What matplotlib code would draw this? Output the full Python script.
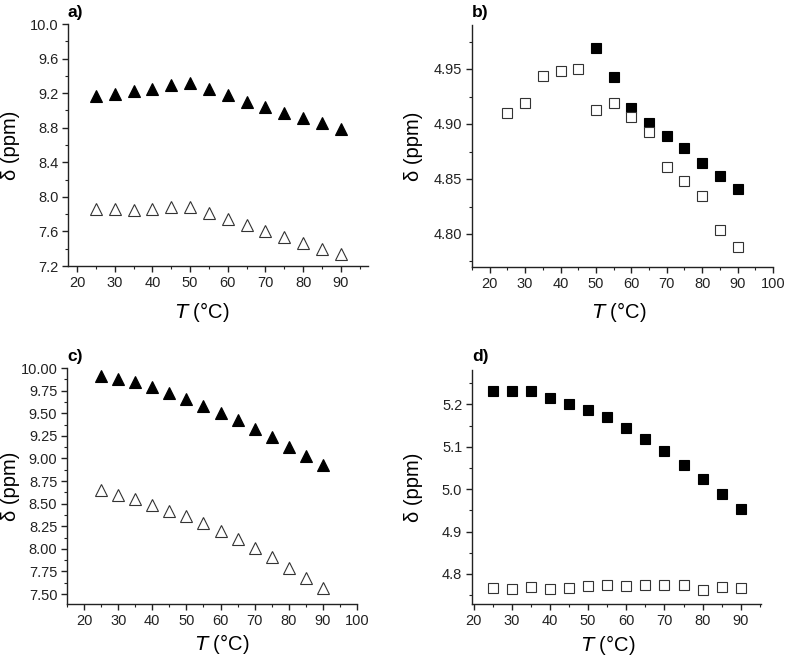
import numpy as np
import matplotlib
matplotlib.use("Agg")
import matplotlib.pyplot as plt
from matplotlib.ticker import MultipleLocator, FormatStrFormatter

plt.rcParams['font.family'] = ['Liberation Sans', 'DejaVu Sans']

W, H = 787, 657

temps = [25, 30, 35, 40, 45, 50, 55, 60, 65, 70, 75, 80, 85, 90]

# panel a
a_filled = [9.17, 9.19, 9.22, 9.25, 9.29, 9.32, 9.25, 9.18, 9.10, 9.04, 8.97, 8.91, 8.85, 8.78]
a_open = [7.86, 7.86, 7.85, 7.86, 7.88, 7.88, 7.81, 7.74, 7.67, 7.60, 7.53, 7.47, 7.40, 7.34]

# panel b (filled series starts at 50 C)
b_temps_filled = [50, 55, 60, 65, 70, 75, 80, 85, 90]
b_filled = [4.969, 4.943, 4.915, 4.901, 4.889, 4.878, 4.865, 4.853, 4.841]
b_open = [4.910, 4.919, 4.944, 4.948, 4.950, 4.913, 4.919, 4.906, 4.893, 4.861, 4.848, 4.835, 4.804, 4.788]

# panel c
c_filled = [9.91, 9.88, 9.84, 9.79, 9.72, 9.66, 9.58, 9.50, 9.42, 9.33, 9.24, 9.13, 9.03, 8.93]
c_open = [8.65, 8.60, 8.55, 8.49, 8.42, 8.36, 8.29, 8.20, 8.11, 8.01, 7.91, 7.79, 7.68, 7.57]

# panel d
d_filled = [5.232, 5.232, 5.232, 5.216, 5.200, 5.187, 5.169, 5.145, 5.118, 5.089, 5.058, 5.023, 4.989, 4.952]
d_open = [4.766, 4.764, 4.768, 4.765, 4.766, 4.772, 4.774, 4.772, 4.774, 4.774, 4.774, 4.762, 4.769, 4.766]


def px_rect(l, t, r, b):
    return [l / W, 1 - b / H, (r - l) / W, (b - t) / H]


def style_axes(ax, xlim, ylim, ymaj, ymin, yfmt, xmaj=10, xmin=5):
    ax.set_xlim(*xlim)
    ax.set_ylim(*ylim)
    for s in ['top', 'right']:
        ax.spines[s].set_visible(False)
    for s in ['left', 'bottom']:
        ax.spines[s].set_linewidth(1.0)
        ax.spines[s].set_color('#222222')
    ax.xaxis.set_major_locator(MultipleLocator(xmaj))
    ax.xaxis.set_minor_locator(MultipleLocator(xmin))
    ax.yaxis.set_major_locator(MultipleLocator(ymaj))
    ax.yaxis.set_minor_locator(MultipleLocator(ymin))
    ax.yaxis.set_major_formatter(FormatStrFormatter(yfmt))
    ax.tick_params(which='major', direction='out', length=4, width=1.0,
                   labelsize=10.5, colors='#222222', pad=3)
    ax.tick_params(which='minor', direction='out', length=2.5, width=0.8, colors='#222222')
    ax.set_xlabel(r'$\mathit{T}$ (°C)', fontsize=14.5)
    ax.set_ylabel('δ (ppm)', fontsize=14.5)


fig = plt.figure(figsize=(W / 100, H / 100), dpi=100)

tri_f = dict(linestyle='none', marker='^', ms=8.5, mfc='black', mec='black', mew=0.8)
tri_o = dict(linestyle='none', marker='^', ms=8.5, mfc='white', mec='#333333', mew=0.8)
sq_f = dict(linestyle='none', marker='s', ms=7.5, mfc='black', mec='black', mew=0.8)
sq_o = dict(linestyle='none', marker='s', ms=7.5, mfc='white', mec='#333333', mew=0.8)

# a)
ax = fig.add_axes(px_rect(68, 24, 368, 266))
ax.plot(temps, a_filled, **tri_f, clip_on=False)
ax.plot(temps, a_open, **tri_o, clip_on=False)
style_axes(ax, (17.6, 97.2), (7.2, 10.0), 0.4, 0.2, '%.1f')
ax.xaxis.set_label_coords(0.447, -0.14)
ax.yaxis.set_label_coords(-0.16, 0.5)

# b)
ax = fig.add_axes(px_rect(472, 25, 773, 267))
ax.plot(b_temps_filled, b_filled, **sq_f, clip_on=False)
ax.plot(temps, b_open, **sq_o, clip_on=False)
style_axes(ax, (15, 100), (4.77, 4.99), 0.05, 0.025, '%.2f')
ax.xaxis.set_label_coords(0.49, -0.138)
ax.yaxis.set_label_coords(-0.163, 0.5)

# c)
ax = fig.add_axes(px_rect(67, 368, 357, 604))
ax.plot(temps, c_filled, **tri_f, clip_on=False)
ax.plot(temps, c_open, **tri_o, clip_on=False)
style_axes(ax, (15, 100), (7.39, 10.0), 0.25, 0.125, '%.2f')
ax.xaxis.set_label_coords(0.534, -0.12)
ax.yaxis.set_label_coords(-0.162, 0.5)

# d)
ax = fig.add_axes(px_rect(472, 370, 761, 604))
ax.plot(temps, d_filled, **sq_f, clip_on=False)
ax.plot(temps, d_open, **sq_o, clip_on=False)
style_axes(ax, (19.6, 95.3), (4.729, 5.281), 0.1, 0.05, '%.1f')
ax.xaxis.set_label_coords(0.47, -0.126)
ax.yaxis.set_label_coords(-0.17, 0.5)

for lab, x, y in [('a)', 67, 17), ('b)', 472, 17), ('c)', 67, 361), ('d)', 472, 361)]:
    fig.text(x / W, 1 - y / H, lab, fontsize=12.5, fontweight='bold', ha='left', va='baseline')

fig.savefig('out.png', dpi=100)
